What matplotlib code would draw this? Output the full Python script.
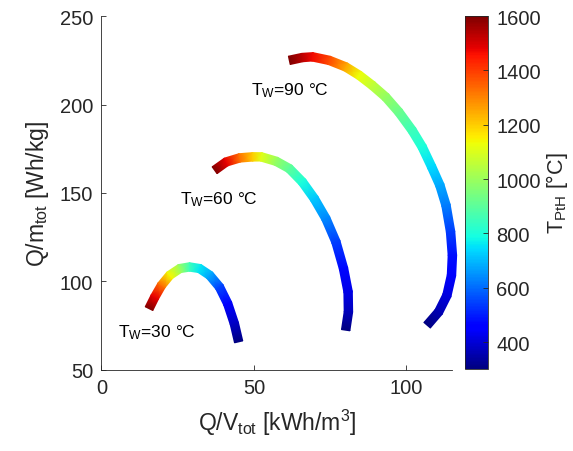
import numpy as np
import matplotlib
matplotlib.use("Agg")
import matplotlib.pyplot as plt
from matplotlib.colors import Normalize
from matplotlib.cm import ScalarMappable

plt.rcParams['font.family'] = ['Liberation Sans', 'DejaVu Sans']
plt.rcParams['mathtext.default'] = 'regular'

# T_W = 30 °C
x30 = [15.6, 17.5, 19.7, 22.4, 25.7, 28.9, 32.2, 35.5, 38.7, 41.4, 43.6, 45.0]
y30 = [84.5, 91.1, 97.7, 103.4, 107.2, 108.1, 107.2, 103.4, 96.8, 87.4, 76.0, 65.7]
t30 = [1600, 1480, 1330, 1140, 1000, 850, 760, 680, 550, 450, 380, 300]

# T_W = 60 °C
x60 = [37.1, 40.9, 45.3, 49.6, 52.4, 57.3, 61.6, 65.9, 69.8, 73.6, 76.9, 79.4, 80.9, 81.0, 80.1]
y60 = [162.8, 167.5, 169.8, 170.4, 170.4, 167.9, 163.8, 156.2, 146.8, 135.5, 122.3, 107.2, 94.0, 82.7, 72.3]
t60 = [1600, 1480, 1330, 1200, 1110, 990, 900, 800, 720, 640, 540, 470, 420, 370, 300]

# T_W = 90 °C
x90 = [61.6, 65.9, 69.2, 74.7, 80.1, 84.5, 88.8, 93.2, 97.5, 101.9, 105.2, 108.3, 111.0, 113.0,
       114.5, 115.1, 114.8, 113.3, 110.6, 106.8]
y90 = [225.0, 226.6, 227.0, 225.0, 221.3, 216.6, 210.9, 204.3, 195.8, 185.4, 176.0, 164.7, 154.3,
       143.0, 128.0, 114.7, 103.4, 92.0, 82.7, 75.1]
t90 = [1600, 1530, 1470, 1380, 1250, 1130, 1060, 990, 920, 850, 800, 740, 680, 620,
       540, 480, 450, 410, 360, 300]

curve_labels = ['T$_{W}$=30 °C', 'T$_{W}$=60 °C', 'T$_{W}$=90 °C']
label_pos = [(5.4, 71.5), (25.7, 147.0), (49.1, 208.5)]

t_min, t_max = 300, 1600
gray = '#262626'
band_px = 8.5  # thickness of the coloured curves in pixels

fig = plt.figure(figsize=(5.73, 4.52), dpi=100)
ax = fig.add_axes([0.177, 0.180, 0.612, 0.782])
cax = fig.add_axes([0.8115, 0.181, 0.040, 0.781])

ax.set_xlim(0, 115)
ax.set_ylim(50, 250)

norm = Normalize(t_min, t_max)
cmap = plt.get_cmap('jet')


def draw_band(xs, ys, ts):
    # thick line with a smooth colour gradient (gouraud shaded strip)
    pts = ax.transData.transform(np.column_stack([xs, ys]))
    d = np.gradient(pts, axis=0)
    nrm = np.column_stack([-d[:, 1], d[:, 0]])
    nrm /= np.linalg.norm(nrm, axis=1)[:, None]
    inv = ax.transData.inverted()
    lo = inv.transform(pts - nrm * band_px / 2)
    hi = inv.transform(pts + nrm * band_px / 2)
    X = np.vstack([lo[:, 0], hi[:, 0]])
    Y = np.vstack([lo[:, 1], hi[:, 1]])
    C = np.vstack([ts, ts]).astype(float)
    ax.pcolormesh(X, Y, C, shading='gouraud', cmap=cmap, norm=norm, clip_on=False)


for xs, ys, ts in [(x30, y30, t30), (x60, y60, t60), (x90, y90, t90)]:
    draw_band(xs, ys, ts)

for txt, (tx, ty) in zip(curve_labels, label_pos):
    ax.text(tx, ty, txt, fontsize=12.5, color='k', ha='left', va='center')

ax.set_xlim(0, 115)
ax.set_ylim(50, 250)
ax.set_xticks([0, 50, 100])
ax.set_yticks([50, 100, 150, 200, 250])
ax.spines['top'].set_visible(False)
ax.spines['right'].set_visible(False)
for s in ['left', 'bottom']:
    ax.spines[s].set_color(gray)
    ax.spines[s].set_linewidth(0.6)
ax.tick_params(direction='in', length=3.5, width=0.6, colors=gray,
               labelsize=14.5, labelcolor=gray, pad=6)
ax.set_xlabel('Q/V$_{tot}$ [kWh/m$^{3}$]', fontsize=16.5, color=gray, labelpad=7)
ax.set_ylabel('Q/m$_{tot}$ [Wh/kg]', fontsize=16.5, color=gray, labelpad=6)

sm = ScalarMappable(norm=norm, cmap=cmap)
cb = fig.colorbar(sm, cax=cax)
cb.set_ticks([400, 600, 800, 1000, 1200, 1400, 1600])
cb.ax.tick_params(direction='in', length=3.5, width=0.6, colors=gray,
                  labelsize=14.5, labelcolor=gray, pad=6)
cb.outline.set_edgecolor(gray)
cb.outline.set_linewidth(0.6)
cb.set_label('T$_{PtH}$ [°C]', fontsize=15.5, color=gray, labelpad=2)

fig.savefig('out.png', dpi=100)
